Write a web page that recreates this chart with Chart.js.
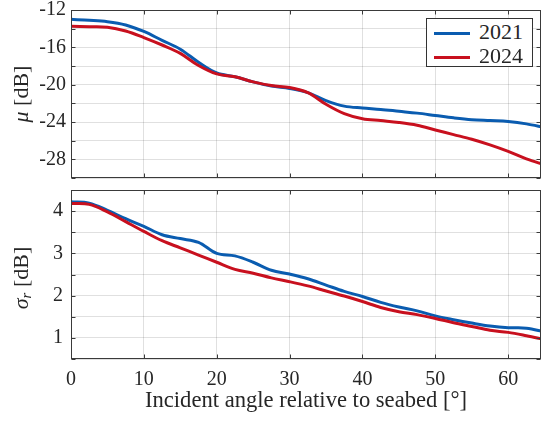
<!DOCTYPE html>
<html lang="en">
<head>
    <meta charset="UTF-8">
    <title>Mean and spread of backscatter vs incident angle</title>
    <script src="https://cdn.jsdelivr.net/npm/chart.js"></script>
    <style>
        body {
            margin: 0;
            width: 542px;
            height: 422px;
            overflow: hidden;
            position: relative;
            background: #fff;
            font-family: "Liberation Serif", "DejaVu Serif", serif;
            color: #262626;
        }
        canvas {
            position: absolute;
            left: 0;
        }
        #muChart { top: 0; }
        #sigmaChart { top: 186px; }
        .y-title {
            position: absolute;
            font-size: 22px;
            white-space: nowrap;
            transform: translate(-50%, -50%) rotate(-90deg);
        }
        .y-title sub { font-size: 15px; vertical-align: -3px; }
        #legend {
            position: absolute;
            left: 426px;
            top: 18px;
            width: 107px;
            height: 49px;
            box-sizing: border-box;
            border: 1px solid #333;
            background: #fff;
        }
        .legend-row {
            position: absolute;
            left: 0;
            height: 24px;
            width: 100%;
        }
        .legend-line {
            position: absolute;
            left: 7px;
            top: 11px;
            width: 36px;
            height: 3px;
        }
        .legend-label {
            position: absolute;
            left: 52px;
            top: -1px;
            font-size: 22px;
            line-height: 24px;
        }
    </style>
</head>
<body>
    <canvas id="muChart" width="542" height="186"></canvas>
    <canvas id="sigmaChart" width="542" height="236"></canvas>
    <div class="y-title" style="left:21px; top:94px;"><i>μ</i> [dB]</div>
    <div class="y-title" style="left:21px; top:278px;"><i>σ</i><sub><i>r</i></sub> [dB]</div>
    <div id="legend"></div>

    <script>
        // incident angle [deg]
        const angles = [0, 2.5, 5, 7.5, 10, 12.5, 15, 17.5, 20, 22.5, 25, 27.5, 30, 32.5,
                        35, 37.5, 40, 42.5, 45, 47.5, 50, 52.5, 55, 57.5, 60, 62.5, 65];
        const xTicks = [0, 10, 20, 30, 40, 50, 60];

        // mean backscatter mu [dB]
        const mu2021 = [-13.0, -13.1, -13.25, -13.6, -14.3, -15.25, -16.2, -17.6, -18.75, -19.15,
                        -19.7, -20.15, -20.4, -20.85, -21.7, -22.3, -22.5, -22.65, -22.85, -23.05,
                        -23.3, -23.55, -23.75, -23.85, -23.95, -24.2, -24.6];
        const mu2024 = [-13.75, -13.8, -13.85, -14.25, -14.95, -15.75, -16.65, -17.95, -18.85, -19.15,
                        -19.7, -20.1, -20.3, -20.85, -22.1, -23.1, -23.65, -23.85, -24.05, -24.35,
                        -24.85, -25.35, -25.85, -26.45, -27.15, -27.95, -28.6];

        // spread sigma_r [dB]
        const sigma2021 = [4.22, 4.19, 4.02, 3.82, 3.64, 3.44, 3.35, 3.26, 3.0, 2.94,
                           2.79, 2.6, 2.51, 2.4, 2.25, 2.1, 1.98, 1.84, 1.73, 1.64,
                           1.52, 1.43, 1.35, 1.28, 1.24, 1.23, 1.14];
        const sigma2024 = [4.18, 4.16, 3.98, 3.75, 3.52, 3.3, 3.13, 2.96, 2.79, 2.62,
                           2.53, 2.42, 2.33, 2.23, 2.11, 1.99, 1.86, 1.72, 1.62, 1.55,
                           1.46, 1.36, 1.27, 1.18, 1.13, 1.05, 0.96];

        const seriesNames = ['2021', '2024'];
        const seriesColors = ['#0a5cb0', '#c8101e'];

        const frameColor = '#3a3a3a';
        const gridColor = 'rgba(0, 0, 0, 0.12)';
        const textColor = '#262626';
        const tickFont = { family: '"Liberation Serif", serif', size: 20 };

        // only label ticks that sit on a multiple of `every`
        const onMultiple = (v, every) => Math.abs(v / every - Math.round(v / every)) < 1e-6;

        // box around the axes plus small inward ticks, like matlab's "box on"
        const framePlugin = {
            id: 'frame',
            afterDraw(chart) {
                const { ctx, chartArea: a, scales } = chart;
                const l = Math.round(a.left) + 0.5, r = Math.round(a.right) - 0.5;
                const t = Math.round(a.top) + 0.5, b = Math.round(a.bottom) - 0.5;
                ctx.save();
                ctx.strokeStyle = frameColor;
                ctx.lineWidth = 1;
                ctx.strokeRect(l, t, r - l, b - t);
                ctx.beginPath();
                scales.x.ticks.forEach(tk => {
                    const px = Math.round(scales.x.getPixelForValue(tk.value)) + 0.5;
                    ctx.moveTo(px, t); ctx.lineTo(px, t + 4);
                    ctx.moveTo(px, b); ctx.lineTo(px, b - 4);
                });
                scales.y.ticks.forEach(tk => {
                    const py = Math.round(scales.y.getPixelForValue(tk.value)) + 0.5;
                    ctx.moveTo(l, py); ctx.lineTo(l + 4, py);
                    ctx.moveTo(r, py); ctx.lineTo(r - 4, py);
                });
                ctx.stroke();
                ctx.restore();
            }
        };

        function makeDatasets(a, b) {
            return [a, b].map((vals, i) => ({
                label: seriesNames[i],
                data: angles.map((x, j) => ({ x: x, y: vals[j] })),
                borderColor: seriesColors[i],
                borderWidth: 3,
                pointRadius: 0,
                tension: 0.35,
                clip: 0,
                order: i === 0 ? 1 : 0   // 2024 drawn on top
            }));
        }

        function xAxis(showLabels) {
            return {
                type: 'linear',
                min: 0,
                max: 64.5,
                afterBuildTicks: s => { s.ticks = xTicks.map(v => ({ value: v })); },
                ticks: {
                    autoSkip: false,
                    display: showLabels,
                    padding: 9,
                    color: textColor,
                    font: tickFont,
                    maxRotation: 0
                },
                grid: { color: gridColor, drawTicks: false },
                border: { display: false },
                title: {
                    display: showLabels,
                    text: 'Incident angle relative to seabed [°]',
                    color: textColor,
                    font: { family: '"Liberation Serif", serif', size: 22.6 },
                    padding: { top: 0, bottom: 7 }
                },
                afterFit: s => {
                    s.height = showLabels ? 63 : 0;
                    s.paddingLeft = 0; s.paddingRight = 0;
                }
            };
        }

        function yAxis(min, max, step, labelEvery, pad) {
            return {
                min: min,
                max: max,
                ticks: {
                    stepSize: step,
                    autoSkip: false,
                    padding: pad,
                    color: textColor,
                    font: tickFont,
                    callback: v => (onMultiple(v, labelEvery) ? String(v) : '')
                },
                grid: { color: gridColor, drawTicks: false },
                border: { display: false },
                afterFit: s => {
                    s.width = 71;
                    // let the end labels overhang instead of shrinking the plot
                    s.paddingTop = 0; s.paddingBottom = 0;
                }
            };
        }

        const common = {
            responsive: false,
            animation: false,
            plugins: { legend: { display: false }, tooltip: { enabled: false } }
        };

        new Chart(document.getElementById('muChart'), {
            type: 'line',
            data: { datasets: makeDatasets(mu2021, mu2024) },
            options: Object.assign({}, common, {
                layout: { padding: { top: 10, right: 1, bottom: 8, left: 0 } },
                scales: { x: xAxis(false), y: yAxis(-30, -12, 2, 4, 5) }
            }),
            plugins: [framePlugin]
        });

        new Chart(document.getElementById('sigmaChart'), {
            type: 'line',
            data: { datasets: makeDatasets(sigma2021, sigma2024) },
            options: Object.assign({}, common, {
                layout: { padding: { top: 4, right: 1, bottom: 0, left: 0 } },
                scales: { x: xAxis(true), y: yAxis(0.5, 4.5, 0.5, 1, 8) }
            }),
            plugins: [framePlugin]
        });

        // legend box
        const legend = document.getElementById('legend');
        seriesNames.forEach((name, i) => {
            const row = document.createElement('div');
            row.className = 'legend-row';
            row.style.top = (2 + i * 23.5) + 'px';
            const line = document.createElement('span');
            line.className = 'legend-line';
            line.style.background = seriesColors[i];
            const label = document.createElement('span');
            label.className = 'legend-label';
            label.textContent = name;
            row.appendChild(line);
            row.appendChild(label);
            legend.appendChild(row);
        });
    </script>
</body>
</html>
